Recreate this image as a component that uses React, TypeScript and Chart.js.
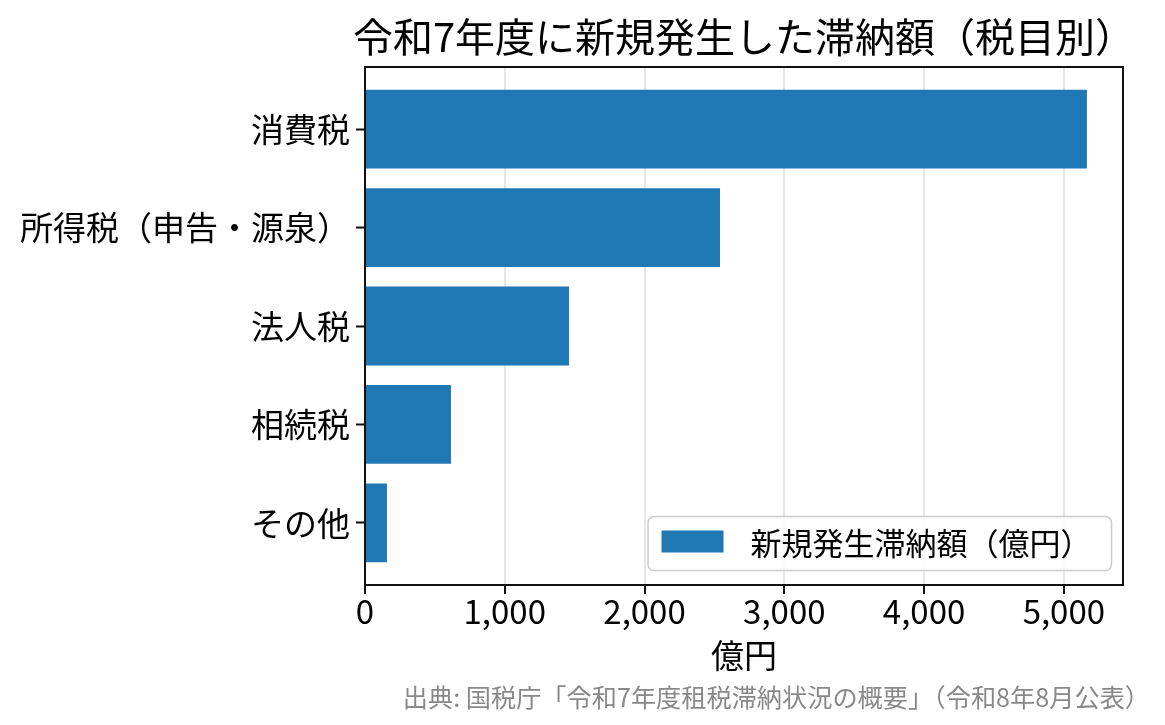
import { useEffect, useRef } from "react";
import { Chart, registerables } from "chart.js";

Chart.register(...registerables);

const FONT = '"Noto Sans CJK JP", "Noto Sans", sans-serif';

const CHART_TITLE = "令和7年度に新規発生した滞納額（税目別）";
const SERIES_LABEL = "新規発生滞納額（億円）";
const X_TITLE = "億円";
const SOURCE_NOTE = "出典: 国税庁「令和7年度租税滞納状況の概要」（令和8年8月公表）";

// tax categories, top to bottom
const categories = ["消費税", "所得税（申告・源泉）", "法人税", "相続税", "その他"];
// newly arisen arrears, 億円
const amounts = [5165, 2540, 1460, 615, 157];
const xTicks = [0, 1000, 2000, 3000, 4000, 5000];

const BAR_BLUE = "#1f77b4";

// title, top/right spines, legend box inside the plot, source note
const decorPlugin = {
  id: "decor",
  afterDraw(chart: Chart) {
    const { ctx, chartArea } = chart;
    const { left, right, top, bottom } = chartArea;
    ctx.save();

    // top + right spines (left/bottom come from the scale borders)
    ctx.strokeStyle = "#111";
    ctx.lineWidth = 2;
    ctx.beginPath();
    ctx.moveTo(left, top);
    ctx.lineTo(right, top);
    ctx.lineTo(right, bottom);
    ctx.stroke();

    // title centred over the plot area
    ctx.fillStyle = "#000";
    ctx.font = `40px ${FONT}`;
    ctx.textAlign = "center";
    ctx.textBaseline = "middle";
    ctx.fillText(CHART_TITLE, (left + right) / 2, 37);

    // legend, lower right inside the axes
    const ds = chart.data.datasets[0];
    ctx.font = `31px ${FONT}`;
    const textW = ctx.measureText(ds.label as string).width;
    const boxR = right - 11.5;
    const boxB = bottom - 14.5;
    const boxH = 54;
    const boxW = 13.5 + 62 + 27 + textW + 20;
    const boxL = boxR - boxW;
    const boxT = boxB - boxH;
    ctx.fillStyle = "rgba(255,255,255,0.8)";
    ctx.strokeStyle = "#cccccc";
    ctx.lineWidth = 1.5;
    ctx.beginPath();
    ctx.roundRect(boxL, boxT, boxW, boxH, 6);
    ctx.fill();
    ctx.stroke();
    ctx.fillStyle = ds.backgroundColor as string;
    ctx.fillRect(boxL + 13.5, boxT + 14, 62, 22);
    ctx.fillStyle = "#000";
    ctx.textAlign = "left";
    ctx.textBaseline = "middle";
    ctx.fillText(ds.label as string, boxL + 13.5 + 62 + 27, boxT + boxH / 2);

    // source note, bottom right
    ctx.fillStyle = "#888";
    ctx.font = `25.2px ${FONT}`;
    ctx.textAlign = "right";
    ctx.fillText(SOURCE_NOTE, 1150, 697);

    ctx.restore();
  },
};

export default function App() {
  const canvasRef = useRef<HTMLCanvasElement>(null);

  useEffect(() => {
    document.body.style.margin = "0";
    if (!canvasRef.current) return;

    const chart = new Chart(canvasRef.current, {
      type: "bar",
      data: {
        datasets: [
          {
            label: SERIES_LABEL,
            data: amounts.map((v, i) => ({ x: v, y: i })),
            backgroundColor: BAR_BLUE,
            borderWidth: 0,
            barPercentage: 1,
            categoryPercentage: 0.8,
          },
        ],
      },
      options: {
        indexAxis: "y",
        responsive: false,
        animation: false,
        devicePixelRatio: 1,
        layout: { padding: { top: 67, right: 42, bottom: 46, left: 0 } },
        plugins: {
          legend: { display: false },
          title: { display: false },
          tooltip: { enabled: false },
        },
        scales: {
          x: {
            type: "linear",
            position: "bottom",
            min: 0,
            max: Math.max(...amounts) * 1.05,
            z: 1,
            afterBuildTicks: (scale) => {
              scale.ticks = xTicks.map((value) => ({ value }));
            },
            afterFit: (scale) => {
              scale.height = 94;
            },
            border: { display: true, color: "#111", width: 2 },
            grid: {
              color: "rgba(176,176,176,0.32)",
              lineWidth: 2,
              tickColor: "#111",
              tickLength: 9,
              tickWidth: 2,
            },
            ticks: {
              color: "#000",
              padding: -2,
              maxRotation: 0,
              autoSkip: false,
              font: { family: FONT, size: 33 },
              callback: (v) => Number(v).toLocaleString("en-US"),
            },
            title: {
              display: true,
              text: X_TITLE,
              color: "#000",
              font: { family: FONT, size: 33 },
              padding: { top: 4, bottom: 4 },
            },
          },
          y: {
            type: "linear",
            position: "left",
            reverse: true,
            offset: false,
            min: -0.63,
            max: categories.length - 1 + 0.63,
            afterBuildTicks: (scale) => {
              scale.ticks = categories.map((_, value) => ({ value }));
            },
            afterFit: (scale) => {
              scale.width = 365;
            },
            border: { display: true, color: "#111", width: 2 },
            grid: {
              offset: false,
              drawOnChartArea: false,
              tickColor: "#111",
              tickLength: 9,
              tickWidth: 2,
            },
            ticks: {
              color: "#000",
              padding: 6,
              autoSkip: false,
              font: { family: FONT, size: 33 },
              callback: (v) => categories[Number(v)] ?? "",
            },
          },
        },
      },
      plugins: [decorPlugin],
    });

    return () => {
      chart.destroy();
    };
  }, []);

  return (
    <div style={{ width: 1165, height: 725 }}>
      <canvas ref={canvasRef} width={1165} height={725}></canvas>
    </div>
  );
}
